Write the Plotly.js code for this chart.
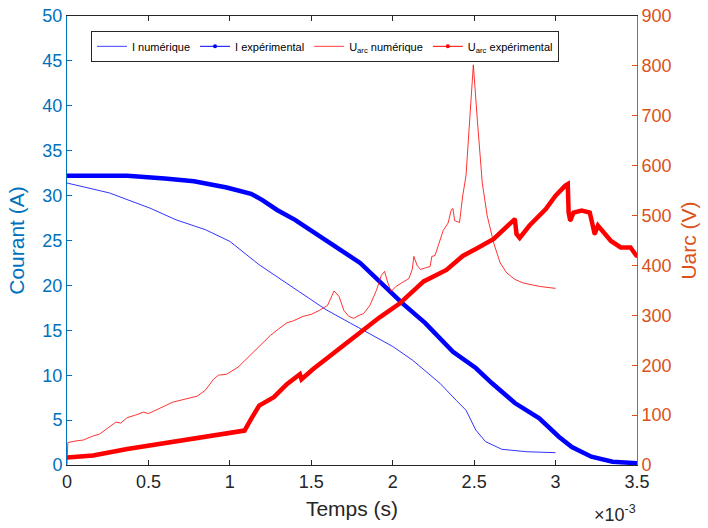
<!DOCTYPE html>
<html>
<head>
<meta charset="utf-8">
<script src="https://cdn.plot.ly/plotly-3.0.1.min.js"></script>
<style>html,body{margin:0;padding:0;background:#fff;}#chart{width:708px;height:528px;}</style>
</head>
<body>
<div id="chart"></div>
<script>
// Time values in ms (axis shows ×10^-3 s)
const tINum = [0, 0.26, 0.51, 0.67, 0.85, 1.0, 1.18, 1.39, 1.59, 1.74, 1.8, 2.0, 2.12, 2.29, 2.39, 2.45, 2.51, 2.57, 2.67, 2.82, 3.0];
const iNum  = [31.4, 30.3, 28.6, 27.3, 26.2, 24.9, 22.3, 19.7, 17.3, 15.8, 15.2, 13.2, 11.7, 9.1, 7.2, 6.1, 3.9, 2.6, 1.75, 1.48, 1.37];

const tIExp = [0, 0.2, 0.37, 0.6, 0.78, 0.98, 1.13, 1.2, 1.29, 1.4, 1.5, 1.65, 1.8, 2.06, 2.2, 2.37, 2.51, 2.61, 2.75, 2.9, 3.02, 3.1, 3.22, 3.35, 3.5];
const iExp  = [32.2, 32.2, 32.2, 31.9, 31.6, 30.9, 30.2, 29.5, 28.4, 27.3, 26.1, 24.4, 22.5, 18.0, 15.8, 12.6, 10.8, 9.1, 6.9, 5.2, 3.15, 2.0, 0.92, 0.37, 0.2];

const tUNum = [0, 0.005, 0.05, 0.1, 0.15, 0.2, 0.25, 0.3, 0.33, 0.37, 0.42, 0.47, 0.5, 0.55, 0.6, 0.65, 0.7, 0.75, 0.8, 0.85, 0.9, 0.93, 0.98, 1.05, 1.1, 1.15, 1.2, 1.25, 1.3, 1.35, 1.39, 1.45, 1.5, 1.55, 1.6, 1.64, 1.67, 1.7, 1.73, 1.76, 1.8, 1.82, 1.86, 1.9, 1.93, 1.95, 1.97, 1.99, 2.02, 2.06, 2.1, 2.12, 2.13, 2.15, 2.17, 2.2, 2.23, 2.24, 2.26, 2.28, 2.31, 2.34, 2.36, 2.37, 2.38, 2.41, 2.42, 2.43, 2.45, 2.47, 2.495, 2.52, 2.55, 2.58, 2.62, 2.66, 2.7, 2.75, 2.8, 2.9, 3.0];
const uNum  = [0, 45, 48, 50, 57, 62, 74, 86, 84, 95, 100, 106, 103, 111, 118, 126, 130, 134, 138, 150, 172, 180, 182, 196, 212, 228, 244, 260, 273, 285, 289, 298, 302, 310, 320, 349, 338, 310, 298, 294, 301, 303, 320, 350, 380, 388, 365, 348, 358, 366, 374, 392, 418, 400, 392, 395, 398, 418, 420, 440, 470, 485, 512, 514, 490, 486, 520, 540, 580, 680, 802, 690, 565, 500, 445, 405, 385, 372, 365, 358, 354];

const tUExp = [0, 0.16, 0.37, 0.57, 0.78, 0.98, 1.09, 1.13, 1.18, 1.27, 1.35, 1.43, 1.44, 1.51, 1.59, 1.7, 1.8, 1.92, 2.04, 2.19, 2.33, 2.43, 2.51, 2.62, 2.75, 2.76, 2.78, 2.84, 2.94, 3.0, 3.06, 3.075, 3.08, 3.09, 3.11, 3.16, 3.21, 3.24, 3.26, 3.34, 3.4, 3.46, 3.5];
const uExp  = [15, 19, 32, 42, 52, 62, 69, 92, 119, 136, 162, 182, 172, 192, 212, 239, 266, 296, 323, 368, 391, 419, 433, 453, 493, 463, 455, 480, 513, 540, 560, 563, 506, 490, 506, 510, 506, 463, 480, 449, 436, 436, 418];

const xTickVals = [0, 0.5, 1, 1.5, 2, 2.5, 3, 3.5];
const xTickText = ['0', '0.5', '1', '1.5', '2', '2.5', '3', '3.5'];
const yLeftTicks = [0, 5, 10, 15, 20, 25, 30, 35, 40, 45, 50];
const yRightTicks = [0, 100, 200, 300, 400, 500, 600, 700, 800, 900];

const names = ['I numérique', 'I expérimental', 'U<sub>arc</sub> numérique', 'U<sub>arc</sub> expérimental'];

const FONT = 'Liberation Sans, Arial, Helvetica, sans-serif';
const GREY = '#262626';
const BLUEAX = '#0072BD';
const ORANGE = '#D95319';

const traces = [
  {x: tINum, y: iNum, name: names[0], mode: 'lines', line: {color: '#0000FF', width: 1}, opacity: 0.8, yaxis: 'y', showlegend: false},
  {x: tIExp, y: iExp, name: names[1], mode: 'lines+markers', line: {color: '#0000FF', width: 4.5}, marker: {size: 3, color: '#0000FF'}, yaxis: 'y', showlegend: false},
  {x: tUNum, y: uNum, name: names[2], mode: 'lines', line: {color: '#FF0000', width: 1}, opacity: 0.8, yaxis: 'y2', showlegend: false},
  {x: tUExp, y: uExp, name: names[3], mode: 'lines+markers', line: {color: '#FF0000', width: 4.5}, marker: {size: 3, color: '#FF0000'}, yaxis: 'y2', showlegend: false},
  // legend keys (thin line, dot marker for experimental series as in the original)
  {x: [null], y: [null], name: names[0], mode: 'lines', line: {color: '#4040FF', width: 1}, yaxis: 'y'},
  {x: [null], y: [null], name: names[1], mode: 'lines+markers', line: {color: '#0000FF', width: 1}, marker: {size: 4, color: '#0000FF'}, yaxis: 'y'},
  {x: [null], y: [null], name: names[2], mode: 'lines', line: {color: '#FF4040', width: 1}, yaxis: 'y2'},
  {x: [null], y: [null], name: names[3], mode: 'lines+markers', line: {color: '#FF0000', width: 1}, marker: {size: 4, color: '#FF0000'}, yaxis: 'y2'}
];

const layout = {
  width: 708, height: 528,
  margin: {l: 67, r: 71, t: 16, b: 63},
  paper_bgcolor: '#fff', plot_bgcolor: '#fff',
  font: {family: FONT, size: 18, color: GREY},
  showlegend: true,
  legend: {
    orientation: 'h', x: 0.042, y: 0.967, xanchor: 'left', yanchor: 'top',
    font: {family: FONT, size: 11, color: '#000'},
    bgcolor: '#fff', bordercolor: GREY, borderwidth: 1,
    itemwidth: 30, tracegroupgap: 0
  },
  xaxis: {
    range: [0, 3.5], tickvals: xTickVals, ticktext: xTickText,
    showgrid: false, zeroline: false, showline: true, mirror: 'ticks',
    linecolor: GREY, linewidth: 1, ticks: 'inside', ticklen: 5, tickcolor: GREY,
    tickfont: {size: 18, color: GREY},
    title: {text: 'Temps (s)', font: {size: 21, color: GREY}, standoff: 10}
  },
  yaxis: {
    range: [0, 50], tickvals: yLeftTicks,
    showgrid: false, zeroline: false, showline: true,
    linecolor: BLUEAX, linewidth: 1, ticks: 'inside', ticklen: 5, tickcolor: BLUEAX,
    tickfont: {size: 18, color: BLUEAX},
    title: {text: 'Courant (A)', font: {size: 21, color: BLUEAX}, standoff: 12}
  },
  yaxis2: {
    range: [0, 900], tickvals: yRightTicks, overlaying: 'y', side: 'right',
    showgrid: false, zeroline: false, showline: true,
    linecolor: ORANGE, linewidth: 1, ticks: 'inside', ticklen: 5, tickcolor: ORANGE,
    tickfont: {size: 18, color: ORANGE},
    title: {text: 'Uarc (V)', font: {size: 21, color: ORANGE}, standoff: 10}
  },
  annotations: [{
    text: '×10<sup>-3</sup>', xref: 'paper', yref: 'paper', x: 0.961, y: -0.107,
    xanchor: 'center', yanchor: 'middle', showarrow: false,
    font: {family: FONT, size: 18, color: GREY}
  }]
};

Plotly.newPlot('chart', traces, layout, {displayModeBar: false, staticPlot: true});
</script>
</body>
</html>
